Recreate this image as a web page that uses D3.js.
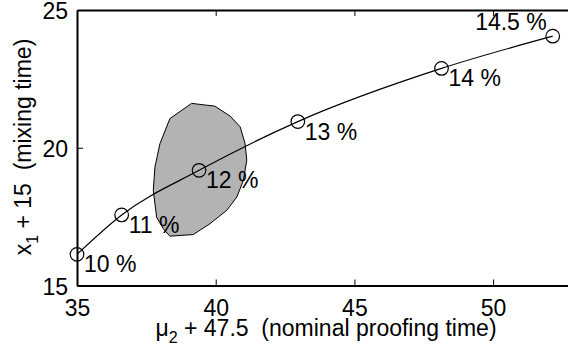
<!DOCTYPE html>
<html>
<head>
<meta charset="utf-8">
<script src="https://cdn.jsdelivr.net/npm/d3@7"></script>
<style>
  html, body { margin: 0; padding: 0; background: #fff; }
  svg { display: block; font-family: "Liberation Sans", Arial, Helvetica, sans-serif; }
</style>
</head>
<body>
<svg id="chart" width="568" height="356"></svg>
<script>
// Protein content levels along the optimal trajectory
const levels = ["10 %", "11 %", "12 %", "13 %", "14 %", "14.5 %"];
// Nominal proofing time (mu2 + 47.5) at each level
const proofing = [35.0, 36.61, 39.40, 42.96, 48.14, 52.15];
// Mixing time (x1 + 15) at each level
const mixing = [16.13, 17.56, 19.18, 20.95, 22.88, 24.05];

// Feasible region boundary (proofing, mixing)
const regionX = [39.13, 39.97, 40.52, 40.88, 41.06, 41.12, 41.00, 40.76, 40.40, 39.79,
                 39.19, 38.35, 38.11, 37.87, 37.75, 37.81, 37.99, 38.35];
const regionY = [21.61, 21.51, 21.15, 20.76, 20.15, 19.55, 18.82, 18.21, 17.73, 17.24,
                 16.85, 16.79, 17.06, 17.48, 18.45, 19.30, 20.15, 21.06];

const xTicks = [35, 40, 45, 50];
const yTicks = [15, 20, 25];

const svg = d3.select("#chart");
const plotLeft = 77, plotTop = 10, plotBottom = 285.5;
const pxPerUnit = 27.74;

const x = d3.scaleLinear().domain([35, 55]).range([plotLeft, plotLeft + 20 * pxPerUnit]);
const y = d3.scaleLinear().domain([15, 25]).range([plotBottom, plotTop]);

const FS = 23;

// Feasible region
const regionPts = regionX.map((v, i) => [x(v), y(regionY[i])]);
svg.append("path")
  .attr("d", d3.line().curve(d3.curveLinearClosed)(regionPts))
  .attr("fill", "#b3b3b3")
  .attr("stroke", "#000")
  .attr("stroke-width", 1);

// Trajectory curve
const pts = proofing.map((v, i) => [x(v), y(mixing[i])]);
svg.append("path")
  .attr("d", d3.line().curve(d3.curveMonotoneX)(pts))
  .attr("fill", "none")
  .attr("stroke", "#000")
  .attr("stroke-width", 1.2);

svg.selectAll("circle.pt").data(pts).enter().append("circle")
  .attr("class", "pt")
  .attr("cx", d => d[0]).attr("cy", d => d[1]).attr("r", 6.8)
  .attr("fill", "none").attr("stroke", "#000").attr("stroke-width", 1.2);

// Level labels
const last = levels.length - 1;
svg.selectAll("text.lvl").data(levels).enter().append("text")
  .attr("class", "lvl")
  .attr("x", (d, i) => i === last ? pts[i][0] - 6 : pts[i][0] + 7)
  .attr("y", (d, i) => i === last ? pts[i][1] - 6 : pts[i][1] + 18)
  .attr("text-anchor", (d, i) => i === last ? "end" : "start")
  .attr("font-size", FS)
  .attr("fill", "#000")
  .text(d => d);

// Axes frame
const axisG = svg.append("g");
axisG.append("g")
  .attr("transform", `translate(0,${plotBottom})`)
  .call(d3.axisBottom(x).tickValues(xTicks).tickSizeInner(-6).tickSizeOuter(0).tickPadding(14))
  .call(g => g.select(".domain").attr("stroke-width", 2.2));
axisG.append("g")
  .attr("transform", `translate(0,${plotTop})`)
  .call(d3.axisTop(x).tickValues(xTicks).tickSizeInner(-6).tickSizeOuter(0).tickFormat(""))
  .call(g => g.select(".domain").attr("stroke-width", 2));
axisG.append("g")
  .attr("transform", `translate(${plotLeft},0)`)
  .call(d3.axisLeft(y).tickValues(yTicks).tickSizeInner(-6).tickSizeOuter(0).tickPadding(9))
  .call(g => g.select(".domain").attr("stroke-width", 2))
  .call(g => g.selectAll(".tick text").attr("dy", "0.38em"));

axisG.selectAll(".tick text")
  .attr("font-size", FS)
  .attr("font-family", "'Liberation Sans', Arial, sans-serif")
  .attr("fill", "#000");
axisG.selectAll(".tick line").attr("stroke", "#000").attr("stroke-width", 1);
axisG.selectAll(".domain").attr("stroke", "#000");

// Axis titles
const xt = svg.append("text")
  .attr("x", 326).attr("y", 336)
  .attr("text-anchor", "middle")
  .attr("font-size", FS);
xt.append("tspan").text("μ");
xt.append("tspan").attr("font-size", 16).attr("dy", 7).text("2");
xt.append("tspan").attr("dy", -7).text("\u00a0+ 47.5\u00a0\u00a0(nominal proofing time)");

const yt = svg.append("text")
  .attr("transform", "translate(31,147) rotate(-90)")
  .attr("text-anchor", "middle")
  .attr("font-size", FS);
yt.append("tspan").text("x");
yt.append("tspan").attr("font-size", 16).attr("dy", 7).text("1");
yt.append("tspan").attr("dy", -7).text("\u00a0+ 15\u00a0\u00a0(mixing time)");
</script>
</body>
</html>
